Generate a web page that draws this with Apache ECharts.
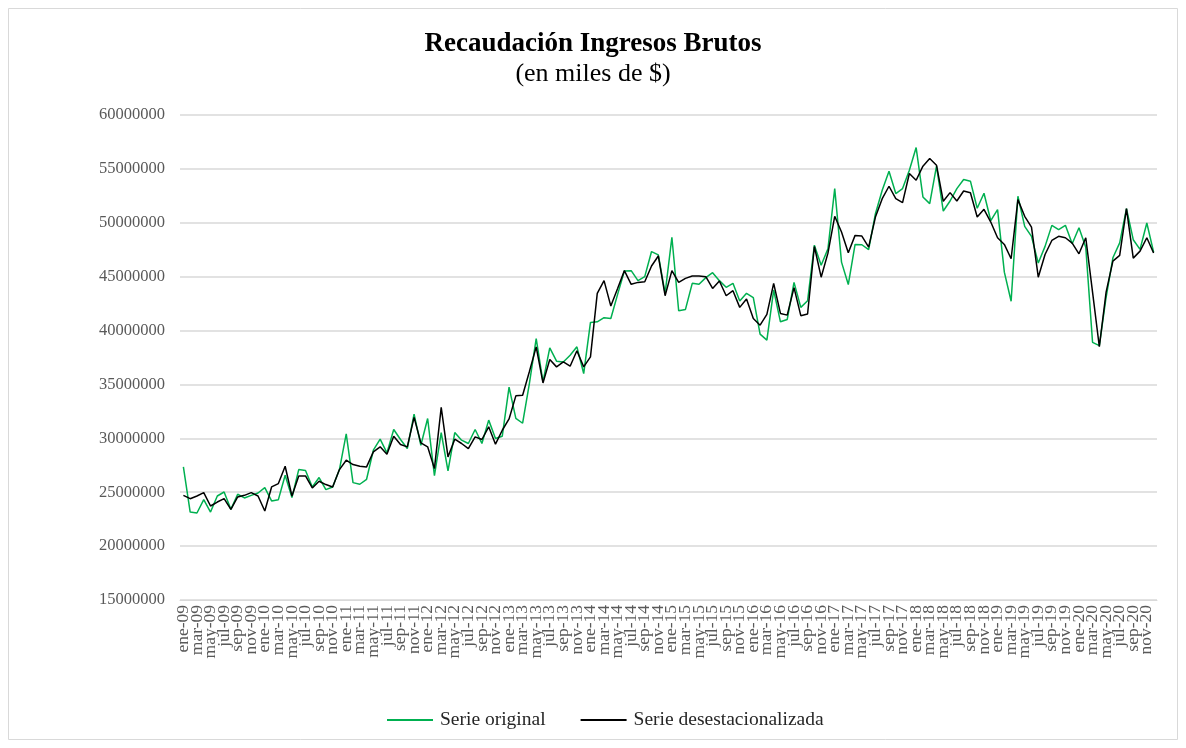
<!DOCTYPE html>
<html>
<head>
<meta charset="utf-8">
<script src="https://cdn.jsdelivr.net/npm/echarts@6/dist/echarts.min.js"></script>
<style>
html,body{margin:0;padding:0;background:#fff;}
#c{width:1186px;height:748px;}
</style>
</head>
<body>
<div id="c"></div>
<script>
var meses = ['ene','feb','mar','abr','may','jun','jul','ago','sep','oct','nov','dic'];
var anios = ['09','10','11','12','13','14','15','16','17','18','19','20'];
var categorias = [];
anios.forEach(function(a){ meses.forEach(function(m){ categorias.push(m + '-' + a); }); });

var yTicks = [15000000,20000000,25000000,30000000,35000000,40000000,45000000,50000000,55000000,60000000];

var serieOriginal = [
27350000,23160000,23070000,24310000,23160000,24650000,25020000,23410000,24810000,24470000,24710000,24930000,
25430000,24190000,24310000,26570000,24500000,27100000,27010000,25490000,26360000,25240000,25490000,27100000,
30420000,25890000,25740000,26200000,28900000,29920000,28650000,30820000,29890000,29050000,32250000,29360000,
31840000,26540000,30540000,26980000,30540000,29830000,29520000,30820000,29520000,31690000,29980000,30200000,
34750000,31850000,31400000,35100000,39260000,35230000,38400000,37160000,37090000,37710000,38490000,36010000,
40750000,40810000,41190000,41120000,43360000,45530000,45560000,44630000,45000000,47330000,47020000,43450000,
48660000,41840000,41960000,44380000,44290000,44910000,45370000,44630000,44010000,44380000,42740000,43450000,
43050000,39670000,39110000,43760000,40810000,41030000,44470000,42150000,42760000,47920000,46060000,47580000,
53170000,46350000,44270000,47990000,47960000,47500000,50840000,53020000,54780000,52710000,53170000,54880000,
56980000,52400000,51780000,55250000,51090000,52020000,53170000,54010000,53860000,51350000,52740000,50190000,
51220000,45420000,42720000,52460000,49670000,48740000,46260000,47810000,49760000,49360000,49760000,48050000,
49540000,47740000,38910000,38600000,43090000,46750000,48140000,51310000,48430000,47530000,49980000,47280000
];

var serieDesest = [
24710000,24400000,24650000,24960000,23720000,24090000,24400000,23410000,24560000,24710000,24960000,24650000,
23260000,25490000,25800000,27410000,24650000,26510000,26510000,25400000,26020000,25710000,25490000,27100000,
27970000,27570000,27410000,27350000,28740000,29210000,28530000,30200000,29430000,29210000,31940000,29580000,
29210000,27190000,32870000,28280000,29920000,29520000,29050000,30140000,29890000,31070000,29460000,30750000,
31800000,33940000,34000000,36200000,38490000,35140000,37310000,36630000,37090000,36690000,38120000,36630000,
37560000,43450000,44630000,42270000,43910000,45560000,44290000,44470000,44530000,45990000,46920000,43230000,
45560000,44470000,44840000,45060000,45060000,45000000,43910000,44600000,43230000,43700000,42150000,42920000,
41120000,40500000,41500000,44380000,41590000,41430000,43980000,41380000,41540000,47800000,44950000,47180000,
50600000,49140000,47220000,48830000,48770000,47740000,50530000,52240000,53390000,52240000,51870000,54570000,
53950000,55250000,55960000,55340000,51990000,52800000,52020000,52950000,52780000,50530000,51250000,50070000,
48610000,47990000,46660000,52150000,50600000,49600000,44950000,47060000,48360000,48740000,48610000,48120000,
47120000,48610000,43560000,38500000,43560000,46440000,46970000,51310000,46720000,47370000,48610000,47190000
];

var serif = '"Liberation Serif","Times New Roman",serif';
var chart = echarts.init(document.getElementById('c'), null, {renderer:'canvas'});
chart.setOption({
  animation:false,
  backgroundColor:'#ffffff',
  textStyle:{fontFamily:serif},
  title:{
    text:'Recaudación Ingresos Brutos',
    subtext:'(en miles de $)',
    left:'center', top:26,
    itemGap:3,
    textStyle:{fontFamily:serif,fontSize:27,fontWeight:'bold',color:'#000'},
    subtextStyle:{fontFamily:serif,fontSize:26,color:'#000'}
  },
  graphic:[{type:'rect',shape:{x:8.5,y:8.5,width:1169,height:731},style:{fill:'none',stroke:'#d9d9d9',lineWidth:1},silent:true}],
  legend:{
    top:705, left:382,
    itemWidth:46, itemHeight:2, itemGap:35,
    icon:'rect',
    textStyle:{fontFamily:serif,fontSize:19.5,color:'#262626',padding:[0,0,0,2]},
    data:['Serie original','Serie desestacionalizada']
  },
  grid:{left:180,right:29,top:115,bottom:148,containLabel:false},
  xAxis:{
    type:'category',
    data:categorias,
    boundaryGap:true,
    axisLine:{show:true,lineStyle:{color:'#d9d9d9',width:1}},
    axisTick:{show:false},
    axisLabel:{
      interval:0,
      formatter:function(v, i){ return i % 2 === 0 ? v : ''; },
      showMinLabel:true, showMaxLabel:true, hideOverlap:false,
      rotate:90,fontFamily:serif,fontSize:17.5,color:'#595959',margin:5
    }
  },
  yAxis:{
    type:'value',
    min:yTicks[0], max:yTicks[yTicks.length-1], interval:yTicks[1]-yTicks[0],
    axisLine:{show:false}, axisTick:{show:false},
    splitLine:{lineStyle:{color:'#d9d9d9',width:1.5}},
    axisLabel:{fontFamily:serif,fontSize:16.5,color:'#595959',margin:15,formatter:function(v){return String(v);}}
  },
  series:[
    {name:'Serie original',type:'line',data:serieOriginal,symbol:'none',color:'#00B050',lineStyle:{color:'#00B050',width:1.5}},
    {name:'Serie desestacionalizada',type:'line',data:serieDesest,symbol:'none',color:'#000000',lineStyle:{color:'#000000',width:1.5}}
  ]
});
</script>
</body>
</html>
